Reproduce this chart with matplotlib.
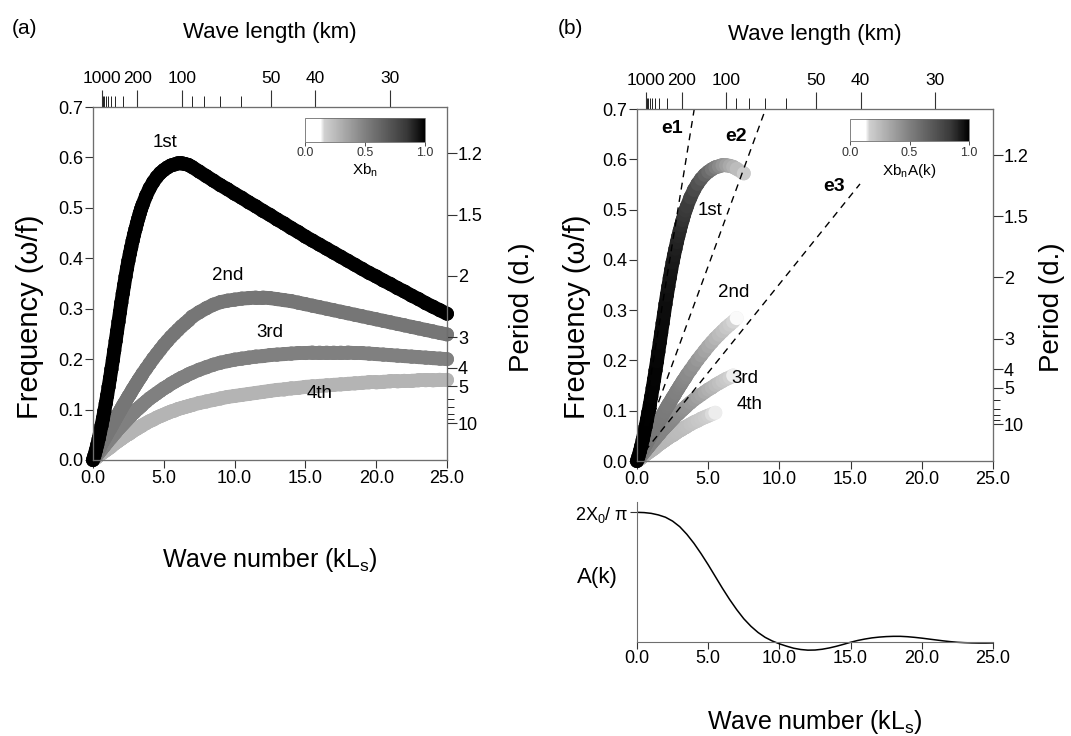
import numpy as np
import matplotlib
matplotlib.use("Agg")
import matplotlib.pyplot as plt
import matplotlib.transforms as mtransforms
from matplotlib.collections import LineCollection
from matplotlib.colors import LinearSegmentedColormap, Normalize
from matplotlib.cm import ScalarMappable

plt.rcParams["font.family"] = ["Liberation Sans", "DejaVu Sans"]
plt.rcParams["mathtext.fontset"] = "custom"
plt.rcParams["mathtext.rm"] = "Liberation Sans"
plt.rcParams["mathtext.it"] = "Liberation Sans:italic"

# wave number grid (kLs) shared by the four modes
k_modes = np.array([
    0.0, 0.1, 0.2, 0.3, 0.4, 0.5, 0.6, 0.7, 0.8, 0.9,
    1.0, 1.1, 1.2, 1.3, 1.4, 1.5, 1.6, 1.7, 1.8, 1.9,
    2.0, 2.1, 2.2, 2.3, 2.4, 2.5, 2.6, 2.7, 2.8, 2.9,
    3.0, 3.1, 3.2, 3.3, 3.4, 3.5, 3.75, 4.0, 4.25, 4.5,
    4.75, 5.0, 5.25, 5.5, 5.75, 6.0, 6.25, 6.5, 6.75, 7.0,
    7.5, 8.0, 8.5, 9.0, 9.5, 10.0, 10.5, 11.0, 11.5, 12.0,
    12.5, 13.0, 13.5, 14.0, 14.5, 15.0, 15.5, 16.0, 16.5, 17.0,
    17.5, 18.0, 18.5, 19.0, 19.5, 20.0, 20.5, 21.0, 21.5, 22.0,
    22.5, 23.0, 23.5, 24.0, 24.5, 25.0,
])

# frequency (omega/f) of each mode on k_modes
w_1st = np.array([
    0.000, 0.009, 0.019, 0.030, 0.042, 0.055, 0.068, 0.082, 0.097, 0.112,
    0.128, 0.145, 0.162, 0.180, 0.198, 0.217, 0.236, 0.255, 0.274, 0.293,
    0.312, 0.330, 0.347, 0.364, 0.380, 0.395, 0.409, 0.422, 0.435, 0.447,
    0.458, 0.469, 0.479, 0.489, 0.498, 0.506, 0.524, 0.539, 0.551, 0.561,
    0.569, 0.575, 0.580, 0.584, 0.586, 0.588, 0.588, 0.587, 0.585, 0.581,
    0.572, 0.563, 0.554, 0.545, 0.537, 0.528, 0.520, 0.511, 0.503, 0.494,
    0.486, 0.477, 0.469, 0.460, 0.452, 0.443, 0.435, 0.427, 0.419, 0.411,
    0.403, 0.395, 0.387, 0.379, 0.371, 0.364, 0.356, 0.349, 0.341, 0.334,
    0.326, 0.319, 0.311, 0.304, 0.297, 0.290,
])
w_2nd = np.array([
    0.000, 0.005, 0.011, 0.016, 0.021, 0.026, 0.032, 0.037, 0.042, 0.047,
    0.052, 0.057, 0.062, 0.067, 0.072, 0.077, 0.082, 0.087, 0.092, 0.097,
    0.102, 0.107, 0.112, 0.116, 0.121, 0.126, 0.130, 0.135, 0.140, 0.144,
    0.149, 0.153, 0.158, 0.162, 0.166, 0.171, 0.181, 0.191, 0.201, 0.210,
    0.219, 0.228, 0.236, 0.244, 0.251, 0.258, 0.265, 0.271, 0.277, 0.284,
    0.293, 0.301, 0.308, 0.313, 0.316, 0.318, 0.320, 0.321, 0.322, 0.322,
    0.321, 0.319, 0.317, 0.315, 0.312, 0.309, 0.306, 0.303, 0.300, 0.297,
    0.294, 0.291, 0.288, 0.285, 0.282, 0.279, 0.276, 0.273, 0.270, 0.267,
    0.264, 0.261, 0.258, 0.255, 0.252, 0.249,
])
w_3rd = np.array([
    0.000, 0.004, 0.007, 0.011, 0.014, 0.018, 0.021, 0.025, 0.028, 0.032,
    0.035, 0.039, 0.042, 0.045, 0.049, 0.052, 0.055, 0.059, 0.062, 0.065,
    0.068, 0.071, 0.074, 0.077, 0.080, 0.083, 0.086, 0.089, 0.092, 0.094,
    0.097, 0.100, 0.102, 0.105, 0.107, 0.110, 0.116, 0.122, 0.127, 0.132,
    0.137, 0.142, 0.146, 0.151, 0.155, 0.159, 0.163, 0.166, 0.170, 0.173,
    0.179, 0.184, 0.189, 0.193, 0.196, 0.199, 0.201, 0.203, 0.205, 0.206,
    0.208, 0.209, 0.210, 0.211, 0.212, 0.212, 0.213, 0.213, 0.213, 0.213,
    0.213, 0.213, 0.212, 0.212, 0.211, 0.210, 0.209, 0.208, 0.207, 0.206,
    0.205, 0.204, 0.203, 0.202, 0.201, 0.200,
])
w_4th = np.array([
    0.000, 0.002, 0.004, 0.006, 0.009, 0.011, 0.013, 0.015, 0.017, 0.019,
    0.021, 0.023, 0.025, 0.027, 0.030, 0.032, 0.034, 0.036, 0.038, 0.040,
    0.042, 0.044, 0.046, 0.048, 0.050, 0.051, 0.053, 0.055, 0.057, 0.059,
    0.061, 0.062, 0.064, 0.066, 0.067, 0.069, 0.073, 0.077, 0.080, 0.084,
    0.087, 0.090, 0.093, 0.096, 0.098, 0.101, 0.103, 0.105, 0.107, 0.109,
    0.113, 0.116, 0.119, 0.122, 0.125, 0.127, 0.129, 0.131, 0.133, 0.135,
    0.137, 0.139, 0.140, 0.142, 0.143, 0.145, 0.146, 0.147, 0.148, 0.149,
    0.150, 0.151, 0.152, 0.153, 0.154, 0.154, 0.155, 0.156, 0.156, 0.157,
    0.157, 0.158, 0.158, 0.158, 0.159, 0.159,
])
mode_names = ["1st", "2nd", "3rd", "4th"]
xb_modes = [1.0, 0.55, 0.50, 0.28]   # Xb_n of each mode

# amplitude spectrum A(k), normalised by 2X0/pi
k_amp = np.arange(0.0, 25.01, 0.5)
amp = np.array([
    1.000, 0.998, 0.992, 0.980, 0.962, 0.932, 0.889, 0.830, 0.760, 0.680,
    0.594, 0.503, 0.412, 0.326, 0.247, 0.176, 0.118, 0.070, 0.032, 0.004,
    -0.018, -0.036, -0.052, -0.062, -0.067, -0.066, -0.060, -0.050, -0.037, -0.022,
    -0.006, 0.008, 0.019, 0.028, 0.034, 0.038, 0.040, 0.040, 0.037, 0.032,
    0.026, 0.019, 0.012, 0.005, -0.001, -0.006, -0.009, -0.011, -0.012, -0.012,
    -0.011,
])

# e1..e3 reference lines from the origin: end points (kLs, omega/f)
e_names = ["e1", "e2", "e3"]
e_end_k = [4.02, 9.03, 15.66]
e_end_w = [0.70, 0.70, 0.551]

# axis annotations
inertial_period = 0.73          # days, omega/f = 1
shelf_scale = 100.0             # km, Ls
period_major = [1.2, 1.5, 2, 3, 4, 5, 10]
period_minor = [6, 7, 8, 9]
wavelen_major = [1000, 200, 100, 50, 40, 30]
wavelen_minor = [900, 800, 700, 600, 500, 400, 300, 90, 80, 70, 60]

SPINE = "#6e6e6e"
xb_cmap = LinearSegmentedColormap.from_list(
    "xb_gray", [(0.0, "white"), (0.13, "white"), (0.16, "#d0d0d0"),
                (0.5, "#808080"), (0.85, "#383838"), (1.0, "black")])


def style_frame(ax):
    for sp in ax.spines.values():
        sp.set_color(SPINE)
        sp.set_linewidth(0.8)
    ax.tick_params(colors="#333333", labelcolor="black", width=0.8)


def setup_dispersion_axes(ax, freq_x, period_x):
    ax.set_xlim(0, 25)
    ax.set_ylim(0, 0.7)
    ax.set_xticks([0, 5, 10, 15, 20, 25])
    ax.set_xticklabels(["0.0", "5.0", "10.0", "15.0", "20.0", "25.0"])
    ax.set_yticks(np.arange(0, 0.71, 0.1))
    ax.set_yticklabels([f"{v:.1f}" for v in np.arange(0, 0.71, 0.1)])
    ax.tick_params(direction="out", length=6, labelsize=13, pad=1)
    style_frame(ax)

    # wave length on top
    top = ax.twiny()
    top.set_xlim(0, 25)
    top.set_xticks([2 * np.pi * shelf_scale / lam for lam in wavelen_major])
    top.set_xticklabels([str(lam) for lam in wavelen_major])
    top.set_xticks([2 * np.pi * shelf_scale / lam for lam in wavelen_minor], minor=True)
    top.tick_params(which="major", direction="out", length=12, labelsize=12.5, pad=3)
    top.tick_params(which="minor", direction="out", length=8)
    top.set_xlabel("Wave length (km)", fontsize=16, labelpad=24)
    # keep "1000" clear of "200"
    shift = mtransforms.ScaledTranslation(-5 / 72, 0, fig.dpi_scale_trans)
    lab = top.get_xticklabels()[0]
    lab.set_transform(lab.get_transform() + shift)
    style_frame(top)

    # period on the right
    right = ax.twinx()
    right.set_ylim(0, 0.7)
    right.set_yticks([inertial_period / p for p in period_major])
    right.set_yticklabels([f"{p:g}" for p in period_major])
    right.set_yticks([inertial_period / p for p in period_minor], minor=True)
    right.tick_params(which="major", direction="out", length=7, labelsize=13, pad=1)
    right.tick_params(which="minor", direction="out", length=5)
    style_frame(right)

    fig.text(freq_x, 1 - 317 / 736, "Frequency (\u03c9/f)", rotation=90,
             fontsize=21, ha="center", va="center")
    fig.text(period_x, 1 - 307 / 736, "Period (d.)", rotation=90,
             fontsize=20, ha="center", va="center")


def draw_band(ax, k, w, cval):
    # thick band of overlapping discs, shaded segment by segment
    pts = np.column_stack([k, w])
    segs = np.stack([pts[:-1], pts[1:]], axis=1)
    cseg = 0.5 * (cval[:-1] + cval[1:])
    band = LineCollection(segs, colors=xb_cmap(cseg), linewidths=10,
                          capstyle="round", joinstyle="round", zorder=2)
    band.set_clip_on(False)
    ax.add_collection(band)
    ax.scatter(k, w, s=100, c=cval, cmap=xb_cmap, vmin=0, vmax=1,
               edgecolors="none", zorder=2, clip_on=False)


def add_colorbar(ax, rect, label):
    cax = ax.inset_axes(rect)
    cb = fig.colorbar(ScalarMappable(Normalize(0, 1), xb_cmap), cax=cax,
                      orientation="horizontal", ticks=[0, 0.5, 1.0])
    cb.ax.set_xticklabels(["0.0", "0.5", "1.0"])
    cb.ax.tick_params(labelsize=9, length=3, width=0.6, colors="#333333", pad=1)
    cb.outline.set_edgecolor(SPINE)
    cb.outline.set_linewidth(0.6)
    cb.set_label(label, fontsize=11, labelpad=2)


fig = plt.figure(figsize=(10.71, 7.36), dpi=100)
modes = [w_1st, w_2nd, w_3rd, w_4th]

# (a) dispersion curves coloured by Xb_n
ax_a = fig.add_axes([93 / 1071, 1 - 460 / 736, 354 / 1071, 353 / 736])
setup_dispersion_axes(ax_a, 30 / 1071, 522 / 1071)
for w, xb in list(zip(modes, xb_modes))[::-1]:
    draw_band(ax_a, k_modes, w, np.full(len(w), xb))
for name, (tx, ty) in zip(mode_names, [(5.08, 0.630), (9.53, 0.366), (12.5, 0.253), (16.0, 0.131)]):
    ax_a.text(tx, ty, name, fontsize=13.5, ha="center", va="center", zorder=4)
add_colorbar(ax_a, [0.599, 0.902, 0.339, 0.066], "Xb$_\\mathregular{n}$")

# (b) same curves coloured by Xb_n A(k)
ax_b = fig.add_axes([637 / 1071, 1 - 461 / 736, 356 / 1071, 352 / 736])
setup_dispersion_axes(ax_b, 577 / 1071, 1052 / 1071)
amp_on_modes = np.interp(k_modes, k_amp, amp)
for w, xb in list(zip(modes, xb_modes))[::-1]:
    cval = xb * amp_on_modes
    keep = cval > 0.13
    draw_band(ax_b, k_modes[keep], w[keep], cval[keep])
for kx, wy in zip(e_end_k, e_end_w):
    ax_b.plot([0, kx], [0, wy], color="black", lw=1.0, ls=(0, (5, 4)), zorder=3)
for name, (tx, ty) in zip(e_names, [(2.44, 0.661), (6.95, 0.646), (13.86, 0.546)]):
    ax_b.text(tx, ty, name, fontsize=14, fontweight="bold", ha="center", va="center", zorder=4)
for name, (tx, ty) in zip(mode_names, [(5.13, 0.498), (6.76, 0.335), (7.58, 0.165), (7.94, 0.112)]):
    ax_b.text(tx, ty, name, fontsize=13.5, ha="center", va="center", zorder=4)
add_colorbar(ax_b, [0.598, 0.908, 0.335, 0.064], "Xb$_\\mathregular{n}$A(k)")

# A(k) below panel (b)
ax_k = fig.add_axes([637 / 1071, 1 - 657 / 736, 356 / 1071, 155 / 736])
ax_k.plot(k_amp, amp, color="black", lw=1.1)
ax_k.set_xlim(0, 25)
ax_k.set_ylim(-0.12, 1.08)
ax_k.spines["top"].set_visible(False)
ax_k.spines["right"].set_visible(False)
ax_k.spines["bottom"].set_position(("data", 0))
ax_k.spines["left"].set_bounds(0, 1.08)
ax_k.set_xticks([0, 5, 10, 15, 20, 25])
ax_k.set_xticklabels(["0.0", "5.0", "10.0", "15.0", "20.0", "25.0"])
ax_k.set_yticks([1.0])
ax_k.set_yticklabels(["2X$_\\mathregular{0}$/ \u03c0"])
ax_k.tick_params(direction="out", length=5, labelsize=13, pad=1)
style_frame(ax_k)
fig.text(597 / 1071, 1 - 578 / 736, "A(k)", fontsize=16, ha="center", va="center")

fig.text(270 / 1071, 1 - 560 / 736, "Wave number (kL$_\\mathregular{s}$)", fontsize=18,
         ha="center", va="center")
fig.text(815 / 1071, 1 - 722 / 736, "Wave number (kL$_\\mathregular{s}$)", fontsize=18,
         ha="center", va="center")
fig.text(12 / 1071, 1 - 28 / 736, "(a)", fontsize=15, ha="left", va="center")
fig.text(558 / 1071, 1 - 28 / 736, "(b)", fontsize=15, ha="left", va="center")

fig.savefig("out.png", dpi=100)
